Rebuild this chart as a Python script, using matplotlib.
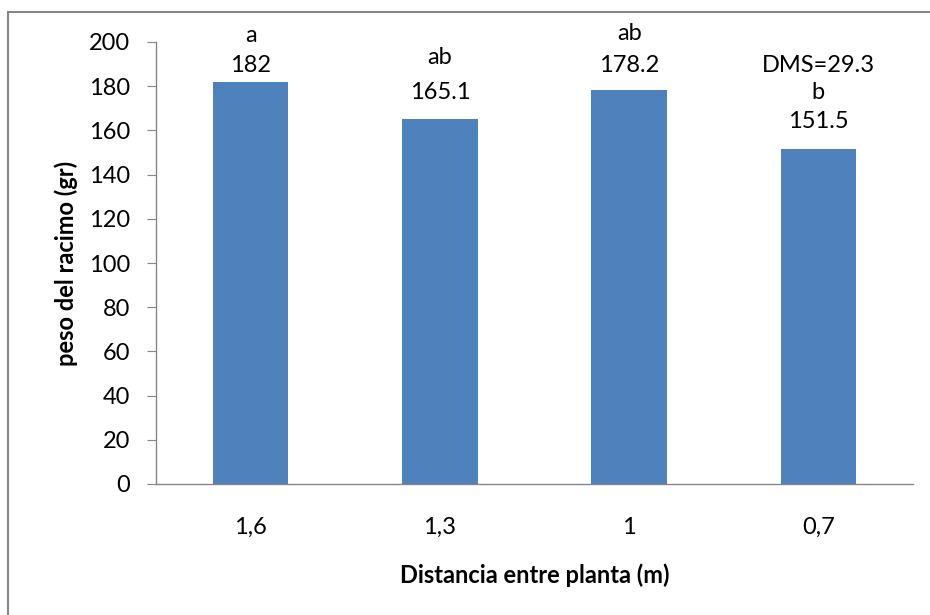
import matplotlib
matplotlib.use("Agg")
import matplotlib.pyplot as plt
from matplotlib.patches import Rectangle

# datos
distancias = ["1,6", "1,3", "1", "0,7"]
peso = [182, 165.1, 178.2, 151.5]
letras = ["a", "ab", "ab", "b"]
etiquetas = ["182", "165.1", "178.2", "151.5"]
dms = "DMS=29.3"

plt.rcParams['font.family'] = ['Lato', 'DejaVu Sans']
fs = 17

fig = plt.figure(figsize=(9.3, 6.15), dpi=100)
ax = fig.add_axes([156/930, 1 - 484/615, (913 - 156)/930, (484 - 42)/615])

# marco del area del grafico (solo se ve arriba e izquierda)
fig.patches.append(Rectangle((8/930, -0.1), 1.2, 1 - 12/615 + 0.1,
                             transform=fig.transFigure, fill=False,
                             edgecolor='#868686', linewidth=1.5))

x = list(range(len(peso)))
ax.bar(x, peso, width=0.4, color='#4F81BD', zorder=2)

ax.set_xlim(-0.5, len(peso) - 0.5)
ax.set_ylim(0, 200)
ax.set_yticks(range(0, 201, 20))
ax.set_xticks(x)
ax.set_xticklabels(distancias)

for s in ['top', 'right']:
    ax.spines[s].set_visible(False)
for s in ['left', 'bottom']:
    ax.spines[s].set_color('#868686')
    ax.spines[s].set_linewidth(1.0)

ax.tick_params(axis='y', length=6.5, color='#868686', labelsize=fs, pad=12)
ax.tick_params(axis='x', length=0, labelsize=fs, pad=24)

# etiquetas encima de las barras (posiciones estimadas del original)
pos_valor = [189.5, 177.0, 189.5, 164.0]
pos_letra = [203.0, 193.0, 204.0, 177.0]
for i in x:
    ax.text(i, pos_valor[i], etiquetas[i], ha='center', va='center',
            fontsize=fs, clip_on=False)
    ax.text(i, pos_letra[i], letras[i], ha='center', va='center',
            fontsize=fs, clip_on=False)
ax.text(3, 189.5, dms, ha='center', va='center', fontsize=fs, clip_on=False)

ax.set_ylabel("peso del racimo (gr)", fontsize=fs, fontweight='bold', labelpad=8)
ax.set_xlabel("Distancia entre planta (m)", fontsize=fs, fontweight='bold', labelpad=18)

fig.savefig("out.png", dpi=100)
